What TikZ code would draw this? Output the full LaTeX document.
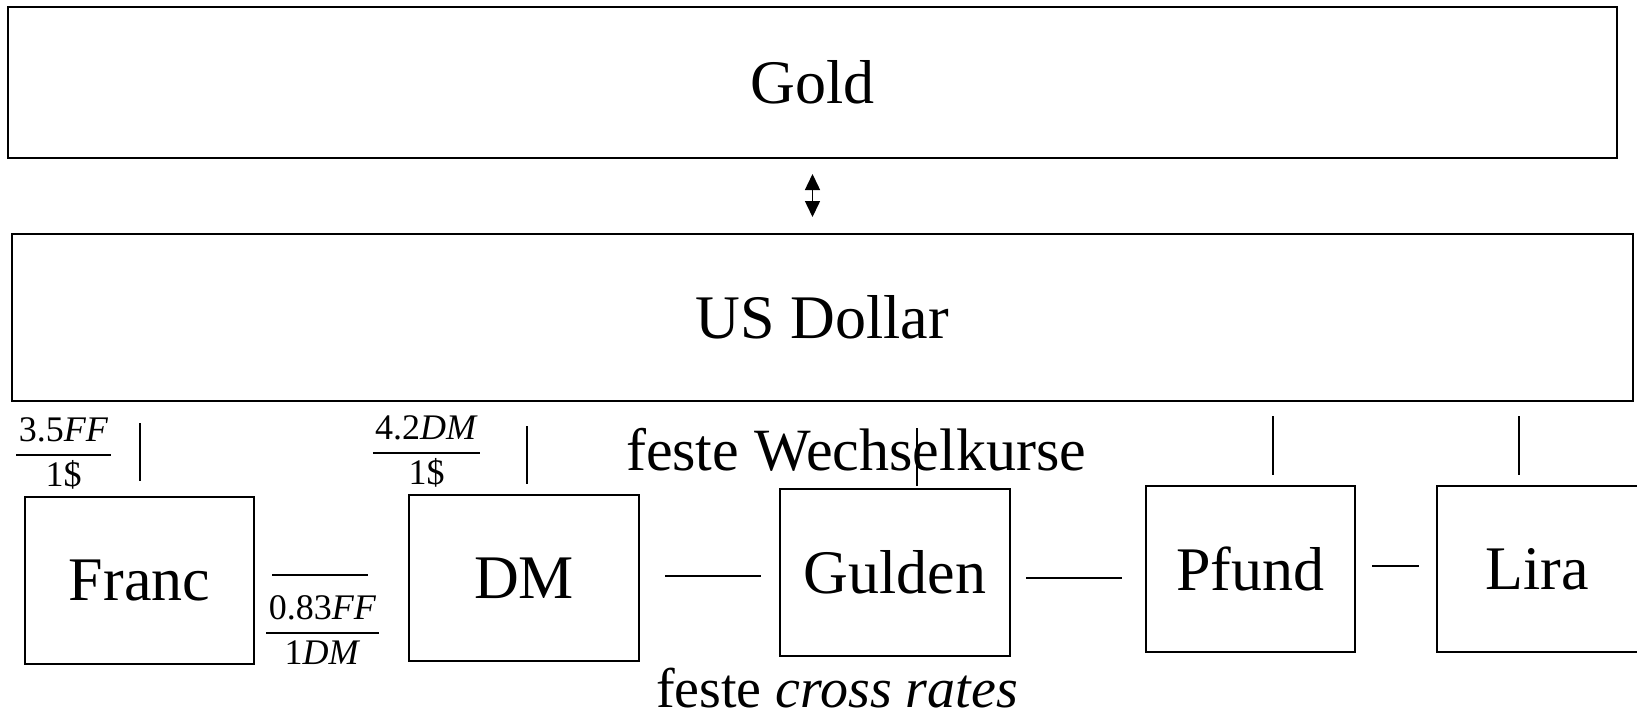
\documentclass[tikz,border=0pt]{standalone}
\usepackage{fontspec}
\setmainfont{Liberation Serif}
\usetikzlibrary{arrows.meta}

\setlength{\arrayrulewidth}{0.6pt}
\newcommand{\ratio}[2]{\begin{tabular}{@{\hspace{1.2pt}}c@{\hspace{1.2pt}}}#1\\\hline#2\end{tabular}}

\begin{document}
\begin{tikzpicture}[x=0.5pt,y=-0.5pt,
    box/.style={draw,line width=1pt,inner sep=0pt,font=\fontsize{31}{37}\selectfont},
    tick/.style={line width=0.8pt},
    link/.style={line width=0.8pt},
    lbl/.style={font=\fontsize{30}{36}\selectfont,inner sep=0pt},
    frac/.style={font=\fontsize{18}{22}\selectfont,inner sep=0pt}]
  \useasboundingbox (0,0) rectangle (1637,720);

  % gold and dollar
  \node[box,minimum width=804.5pt,minimum height=75.5pt] (gold) at (812.5,82.5) {Gold};
  \node[box,minimum width=810.5pt,minimum height=83.5pt] (usd) at (822.5,317.5) {US Dollar};
  \draw[line width=0.75pt,{Triangle[width=7.5pt,length=8pt]}-{Triangle[width=7.5pt,length=8pt]},
        shorten <=7.5pt,shorten >=8pt] (gold.south) -- (gold.south |- usd.north);

  % currencies
  \node[box,minimum width=114.5pt,minimum height=83.5pt] (franc) at (139.5,580.5) {Franc};
  \node[box,minimum width=115pt,minimum height=83pt] (dm) at (524,578) {DM};
  \node[box,minimum width=115pt,minimum height=83.5pt] (gulden) at (895,572.5) {Gulden};
  \node[box,minimum width=104.5pt,minimum height=83pt] (pfund) at (1250.5,569) {Pfund};
  \node[box,minimum width=104pt,minimum height=83pt] (lira) at (1541,569) {\hspace*{-4pt}Lira};

  % fixed rates to the dollar
  \foreach \cur/\dx/\sa/\sb in {franc/0.25/10.5/7.5, dm/1.5/12/5, gulden/11/13/1,
                                pfund/11.25/7/5, lira/-11/7/5}{
    \coordinate (\cur-top) at ([xshift=\dx pt]\cur.north);
    \draw[tick,shorten <=\sa pt,shorten >=\sb pt] (\cur-top |- usd.south) -- (\cur-top);
  }

  % cross rates
  \foreach \a/\b/\dy/\sa/\sb in {franc/dm/2.75/8.5/20, dm/gulden/1/12.5/9,
                                 gulden/pfund/-2.75/7.5/11.5, pfund/lira/1.5/8/8.5}{
    \coordinate (\a-out) at ([yshift=\dy pt]\a.east);
    \draw[link,shorten <=\sa pt,shorten >=\sb pt] (\a-out) -- (\a-out -| \b.west);
  }

  % labels
  \node[frac] (rFrUsd) at (63.5,455) {\ratio{3.5\textit{FF}}{1\$}};
  \node[frac] (rDmUsd) at (426.5,453) {\ratio{4.2\textit{DM}}{1\$}};
  \node[frac] (rFrDm) at (322.5,633) {\ratio{0.83\textit{FF}}{1\textit{DM}}};
  \node[lbl,anchor=base] (fixedLbl) at (856,470) {feste Wechselkurse};
  \node[lbl,anchor=base,font=\fontsize{28}{34}\selectfont] (crossLbl) at (837,707) {feste \textit{cross rates}};
\end{tikzpicture}
\end{document}
